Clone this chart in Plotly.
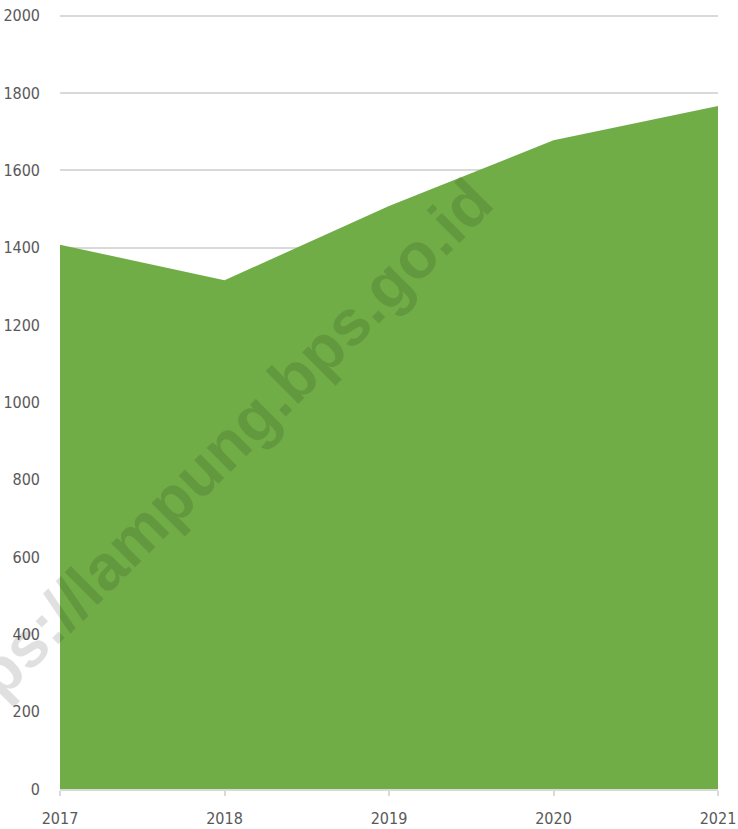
import plotly.graph_objects as go

# -- Data ---------------------------------------------------------------------
years  = [2017, 2018, 2019, 2020, 2021]
values = [1408, 1316, 1508, 1678, 1767]
y_ticks = [0, 200, 400, 600, 800, 1000, 1200, 1400, 1600, 1800, 2000]

_GREEN = "#70AD47"
_GRID  = "#d9d9d9"
_TEXT  = "#595959"
_FONT  = "DejaVu Sans Condensed, DejaVu Sans, sans-serif"

fig = go.Figure(go.Scatter(
    x=years, y=values,
    mode="lines",
    fill="tozeroy",
    fillcolor=_GREEN,
    line=dict(width=0, color=_GREEN),
    hoverinfo="x+y",
))

fig.update_layout(
    width=738, height=829,
    paper_bgcolor="white",
    plot_bgcolor="white",
    margin=dict(l=60, r=20, t=12, b=40),
    font=dict(family=_FONT, size=16, color=_TEXT),
    showlegend=False,
    xaxis=dict(
        range=[2017, 2021],
        tickmode="array", tickvals=years, ticktext=[str(y) for y in years],
        showgrid=False, zeroline=False, automargin=False,
        showline=True, linecolor=_GRID, linewidth=1.5,
        ticks="outside", ticklen=5, tickcolor=_GRID, tickwidth=1.5,
        ticklabelstandoff=9,
    ),
    yaxis=dict(
        # a little headroom so the 2000 gridline is not clipped at the edge
        range=[0, 2010],
        tickmode="array", tickvals=y_ticks,
        showgrid=True, gridcolor=_GRID, gridwidth=1.5,
        zeroline=False, showline=False, automargin=False,
        ticks="", ticklabelstandoff=19,
    ),
)

# watermark
fig.add_annotation(
    text="https://lampung.bps.go.id",
    xref="paper", yref="paper",
    x=0.219, y=0.415, xanchor="center", yanchor="middle",
    showarrow=False, textangle=-45,
    font=dict(family="Liberation Sans, Arial, sans-serif", size=64,
              color="rgba(0,0,0,0.12)", weight="bold"),
)

# drop the default 8px body margin so the figure sits at the window's corner
fig.write_html(
    "out.html",
    config={"displayModeBar": False},
    post_script="document.body.style.margin='0';",
)
